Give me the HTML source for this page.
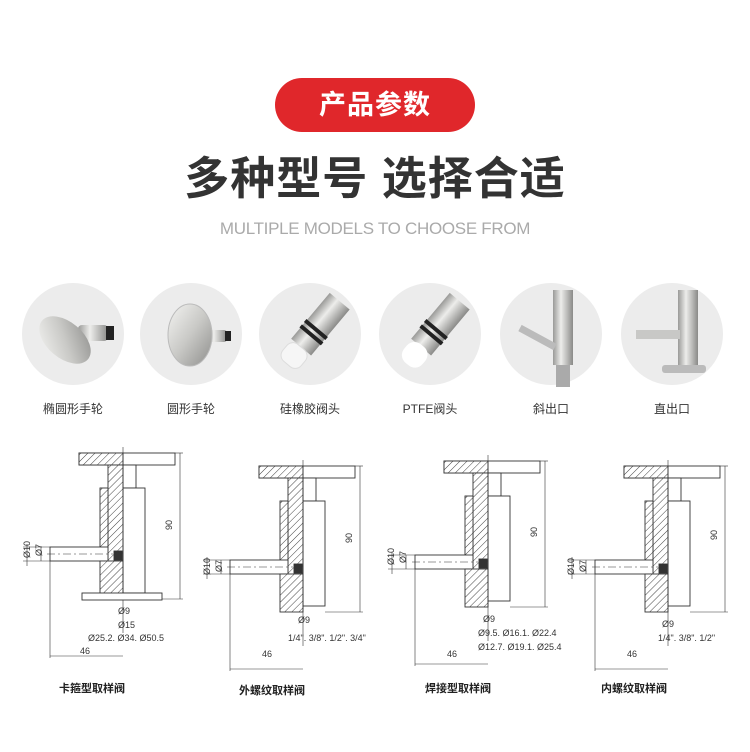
<!DOCTYPE html>
<html><head><meta charset="utf-8"><style>
body{margin:0;width:750px;height:752px;background:#fff;overflow:hidden;position:relative;font-family:"Liberation Sans","Noto Sans CJK SC",sans-serif}
.pill{position:absolute;left:275px;top:78px;width:200px;height:54px;border-radius:27px;background:#e0272b;color:#fff;font-size:27px;font-weight:bold;text-align:center;line-height:54px;letter-spacing:1px}
.t{position:absolute;left:0;width:750px;text-align:center;top:151px;font-size:45px;font-weight:bold;color:#333;line-height:56px;letter-spacing:1px}
.s{position:absolute;left:0;width:750px;text-align:center;top:218px;font-size:17px;color:#aaa;line-height:22px;letter-spacing:-0.3px}
.c{position:absolute;width:102px;height:102px;border-radius:50%;background:#ececec;top:283px}
.l{position:absolute;top:400px;width:120px;text-align:center;font-size:12px;color:#333}
svg{position:absolute;left:0;top:0}
</style></head><body>
<div class="pill">产品参数</div>
<div class="t">多种型号 选择合适</div>
<div class="s">MULTIPLE MODELS TO CHOOSE FROM</div>
<div class="c" style="left:22px"></div><div class="c" style="left:140px"></div><div class="c" style="left:259px"></div><div class="c" style="left:379px"></div><div class="c" style="left:500px"></div><div class="c" style="left:621px"></div>
<div class="l" style="left:13px">椭圆形手轮</div><div class="l" style="left:131px">圆形手轮</div><div class="l" style="left:250px">硅橡胶阀头</div><div class="l" style="left:370px">PTFE阀头</div><div class="l" style="left:491px">斜出口</div><div class="l" style="left:612px">直出口</div>
<svg width="750" height="752" viewBox="0 0 750 752">
<defs>
<linearGradient id="m" x1="0" y1="0" x2="1" y2="1"><stop offset="0" stop-color="#f4f4f2"/><stop offset="0.5" stop-color="#c9c9c6"/><stop offset="1" stop-color="#8e8e8c"/></linearGradient>
<linearGradient id="m2" x1="0" y1="0" x2="1" y2="0"><stop offset="0" stop-color="#9a9a98"/><stop offset="0.4" stop-color="#ededeb"/><stop offset="1" stop-color="#8a8a88"/></linearGradient>
<pattern id="h" width="5" height="5" patternUnits="userSpaceOnUse" patternTransform="rotate(45)"><rect width="5" height="5" fill="#fff"/><line x1="0" y1="0" x2="0" y2="5" stroke="#444" stroke-width="1"/></pattern>
<g id="v" stroke="#333" stroke-width="0.9">
<rect x="-44" y="0" width="96" height="12" fill="#fff"/>
<rect x="-44" y="0" width="44" height="12" fill="url(#h)"/>
<rect x="0" y="12" width="13" height="23" fill="#fff"/>
<rect x="0" y="35" width="22" height="105" fill="#fff"/>
<rect x="-15" y="12" width="15" height="128" fill="url(#h)"/>
<rect x="-23" y="35" width="8" height="60" fill="url(#h)"/>
<rect x="-73" y="94" width="58" height="14" fill="#fff"/>
<rect x="-23" y="108" width="23" height="38" fill="url(#h)"/>
<rect x="-9" y="98" width="8" height="9" fill="#333"/>
<line x1="-76" y1="101" x2="-10" y2="101" stroke-dasharray="8 3 2 3" stroke-width="0.6"/>
<line x1="0" y1="-6" x2="0" y2="180" stroke-width="0.6"/>
<line x1="52" y1="0" x2="60" y2="0" stroke-width="0.6"/>
<line x1="57" y1="0" x2="57" y2="146" stroke-width="0.6"/>
<line x1="22" y1="146" x2="60" y2="146" stroke-width="0.6"/>
<line x1="-73" y1="108" x2="-73" y2="205" stroke-width="0.6"/>
<line x1="-73" y1="203" x2="0" y2="203" stroke-width="0.6"/>
<line x1="-96" y1="91" x2="-96" y2="113" stroke-width="0.6"/>
<line x1="-82" y1="94" x2="-82" y2="108" stroke-width="0.6"/>
<line x1="-100" y1="94" x2="-73" y2="94" stroke-width="0.6"/>
<line x1="-100" y1="108" x2="-73" y2="108" stroke-width="0.6"/>
</g>
</defs>
<!-- product photos -->
<rect x="78" y="325" width="30" height="16" rx="4" fill="url(#m2)"/><rect x="106" y="326" width="8" height="14" fill="#222"/>
<ellipse cx="65" cy="340" rx="18" ry="30" transform="rotate(-50 65 340)" fill="url(#m)"/>
<rect x="205" y="330" width="22" height="12" rx="3" fill="url(#m2)"/><rect x="225" y="331" width="6" height="10" fill="#222"/>
<ellipse cx="190" cy="335" rx="22" ry="31" fill="url(#m)" stroke="#bbb"/>
<g transform="rotate(40 310 335)"><rect x="298" y="290" width="26" height="60" fill="url(#m2)"/><rect x="297" y="325" width="28" height="4" fill="#222"/><rect x="297" y="332" width="28" height="4" fill="#222"/><rect x="299" y="350" width="24" height="22" rx="8" fill="#f6f6f6" stroke="#ddd"/></g>
<g transform="rotate(40 430 335)"><rect x="418" y="290" width="26" height="60" fill="url(#m2)"/><rect x="417" y="325" width="28" height="4" fill="#222"/><rect x="417" y="332" width="28" height="4" fill="#222"/><rect x="419" y="348" width="24" height="24" rx="10" fill="#fff"/></g>
<rect x="553" y="290" width="20" height="75" fill="url(#m2)"/><rect x="556" y="365" width="14" height="22" fill="#aaa"/>
<line x1="555" y1="347" x2="520" y2="328" stroke="#bbb" stroke-width="7"/>
<rect x="678" y="290" width="20" height="75" fill="url(#m2)"/><rect x="662" y="365" width="44" height="8" rx="3" fill="#bbb"/>
<rect x="636" y="330" width="44" height="9" fill="#c8c8c6"/>
<use href="#v" x="123" y="453"/>
<rect x="82" y="593" width="80" height="7" fill="#fff" stroke="#333" stroke-width="0.9"/>
<use href="#v" x="303" y="466"/>
<use href="#v" x="488" y="461"/>
<use href="#v" x="668" y="466"/>
<g font-size="9" fill="#333" font-family="Liberation Sans,sans-serif">
<text x="118" y="614">Ø9</text><text x="118" y="628">Ø15</text><text x="88" y="641">Ø25.2. Ø34. Ø50.5</text><text x="80" y="654">46</text>
<text transform="translate(30,558) rotate(-90)">Ø10</text><text transform="translate(42,556) rotate(-90)">Ø7</text><text transform="translate(172,530) rotate(-90)">90</text>
<text x="298" y="623">Ø9</text><text x="288" y="641">1/4". 3/8". 1/2". 3/4"</text><text x="262" y="657">46</text>
<text transform="translate(210,575) rotate(-90)">Ø10</text><text transform="translate(222,572) rotate(-90)">Ø7</text><text transform="translate(352,543) rotate(-90)">90</text>
<text x="483" y="622">Ø9</text><text x="478" y="636">Ø9.5. Ø16.1. Ø22.4</text><text x="478" y="650">Ø12.7. Ø19.1. Ø25.4</text><text x="447" y="657">46</text>
<text transform="translate(394,565) rotate(-90)">Ø10</text><text transform="translate(406,563) rotate(-90)">Ø7</text><text transform="translate(537,537) rotate(-90)">90</text>
<text x="662" y="627">Ø9</text><text x="658" y="641">1/4". 3/8". 1/2"</text><text x="627" y="657">46</text>
<text transform="translate(574,575) rotate(-90)">Ø10</text><text transform="translate(586,572) rotate(-90)">Ø7</text><text transform="translate(717,540) rotate(-90)">90</text>
</g>
<g font-size="11" font-weight="bold" fill="#222" text-anchor="middle">
<text x="92" y="692">卡箍型取样阀</text><text x="272" y="694">外螺纹取样阀</text><text x="458" y="692">焊接型取样阀</text><text x="634" y="692">内螺纹取样阀</text>
</g>
</svg>
</body></html>
